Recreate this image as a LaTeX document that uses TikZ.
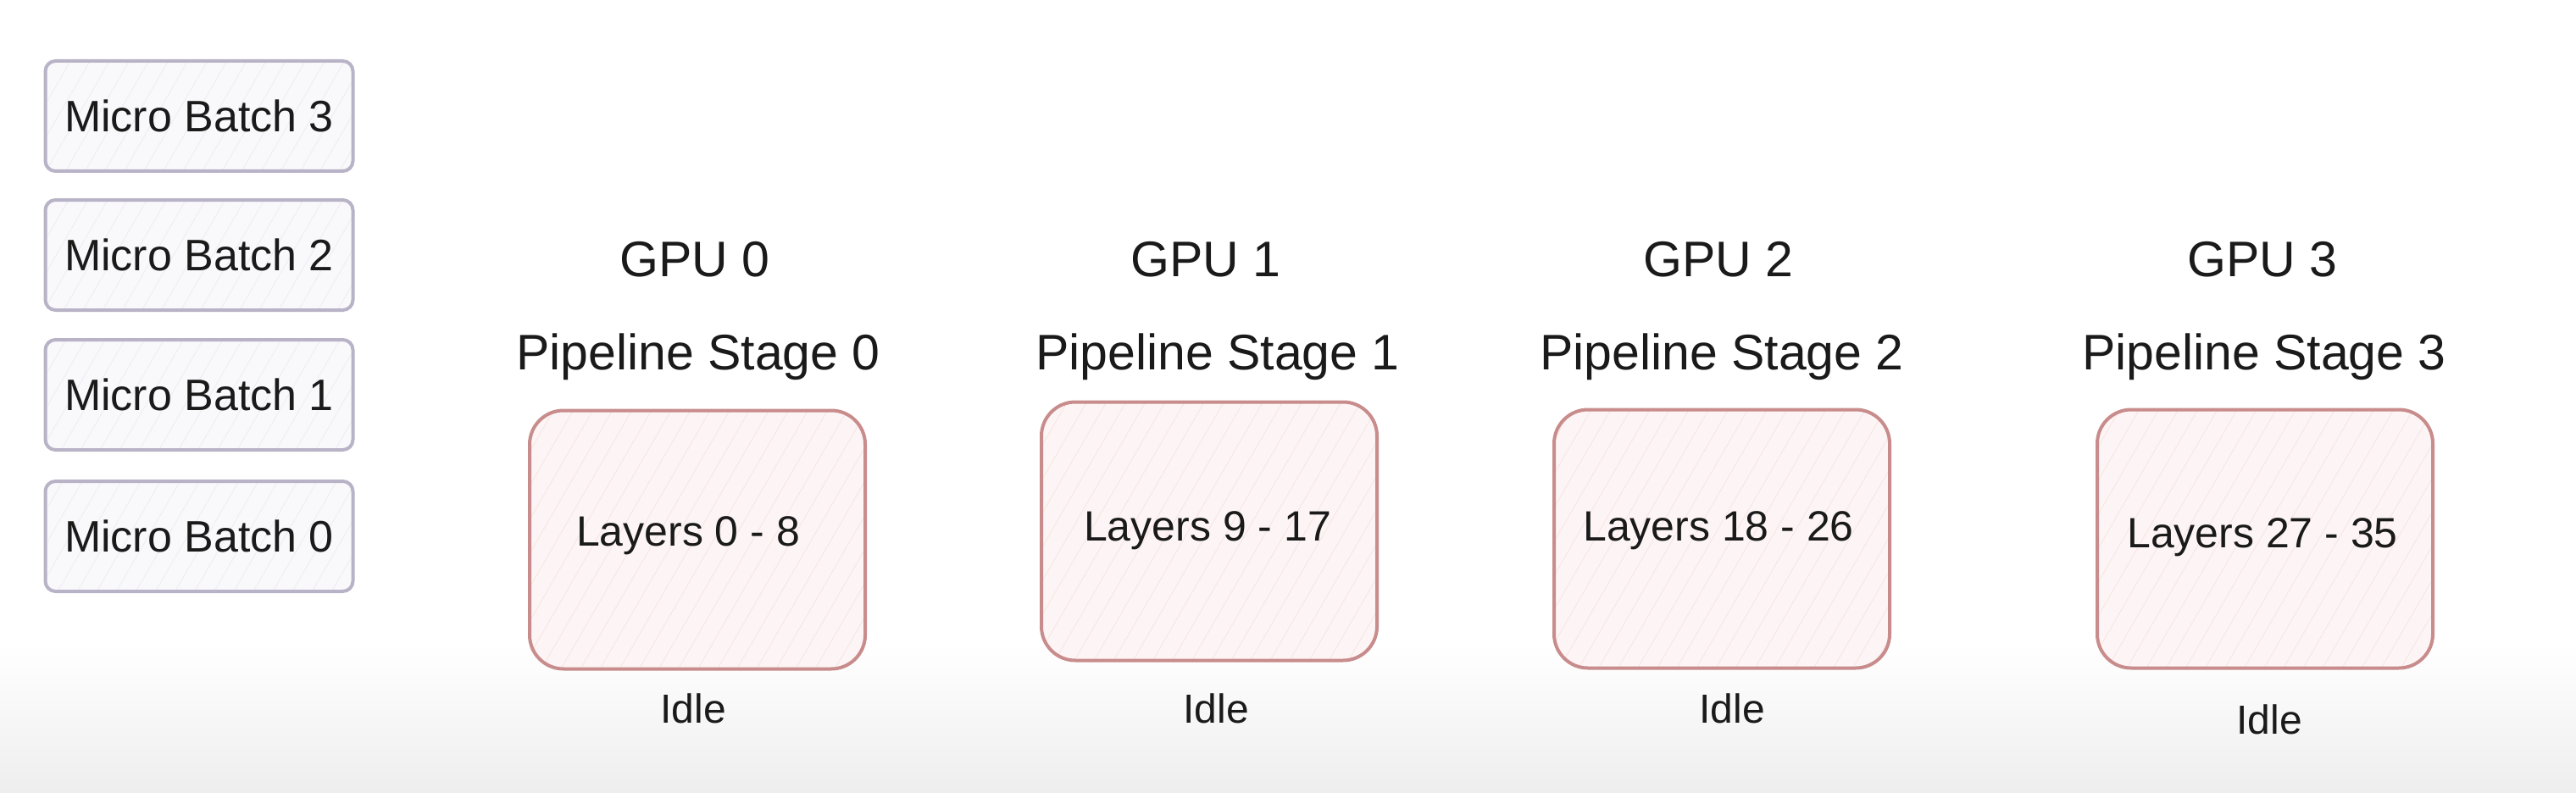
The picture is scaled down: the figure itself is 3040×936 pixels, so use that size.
\documentclass[tikz,border=0pt]{standalone}
\usepackage{fontspec}
\setmainfont{Liberation Sans}
\usetikzlibrary{patterns.meta}
\definecolor{mbdraw}{HTML}{B8B3C6}
\definecolor{mbfill}{HTML}{F9F8FB}
\definecolor{mbhatch}{HTML}{F0EEF3}
\definecolor{gpudraw}{HTML}{C98C8C}
\definecolor{gpufill}{HTML}{FDF5F5}
\definecolor{gpuhatch}{HTML}{F8E6E6}
\definecolor{txt}{HTML}{1A1A1A}
\definecolor{bottomgray}{HTML}{EEEEEE}
\begin{document}
\begin{tikzpicture}[x=1pt,y=-1pt,
  mbbox/.style={draw=mbdraw, line width=4pt, rounded corners=12pt,
    minimum width=363pt, minimum height=130pt, inner sep=0pt,
    preaction={fill=mbfill},
    pattern={Lines[angle=60,distance=20pt,line width=1pt]}, pattern color=mbhatch,
    font=\fontsize{52}{62}\selectfont, text=txt},
  gpubox/.style={draw=gpudraw, line width=4pt, rounded corners=40pt,
    minimum width=396pt, minimum height=305pt, inner sep=0pt,
    preaction={fill=gpufill},
    pattern={Lines[angle=60,distance=20pt,line width=1pt]}, pattern color=gpuhatch},
  title/.style={font=\fontsize{59}{70}\selectfont, text=txt, anchor=base, inner sep=0pt},
  layertext/.style={font=\fontsize{50}{60}\selectfont, text=txt, anchor=base, inner sep=0pt},
  idletext/.style={font=\fontsize{48}{58}\selectfont, text=txt, anchor=base, inner sep=0pt}
]
\useasboundingbox (0,0) rectangle (3040,936);
\fill[white] (0,0) rectangle (3040,936);
\shade[top color=white, bottom color=bottomgray] (0,760) rectangle (3040,936);

% micro batches
\node[mbbox] (mb3) at (235,137) {Micro Batch 3};
\node[mbbox] (mb2) at (235,301) {Micro Batch 2};
\node[mbbox] (mb1) at (235,466) {Micro Batch 1};
\node[mbbox] (mb0) at (235,633) {Micro Batch 0};

% GPU boxes
\node[gpubox] (g0) at (823,637) {};
\node[gpubox] (g1) at (1427,627) {};
\node[gpubox] (g2) at (2032,636) {};
\node[gpubox] (g3) at (2673,636) {};

% layer texts
\node[layertext] (l0) at (812,644) {Layers 0 - 8};
\node[layertext] (l1) at (1425,638) {Layers 9 - 17};
\node[layertext] (l2) at (2028,638) {Layers 18 - 26};
\node[layertext] (l3) at (2670,646) {Layers 27 - 35};

% GPU titles
\node[title] (t0) at (820,326) {GPU 0};
\node[title] (t1) at (1423,326) {GPU 1};
\node[title] (t2) at (2028,326) {GPU 2};
\node[title] (t3) at (2670,326) {GPU 3};

% stage titles
\node[title] (s0) at (824,436) {Pipeline Stage 0};
\node[title] (s1) at (1437,436) {Pipeline Stage 1};
\node[title] (s2) at (2032,436) {Pipeline Stage 2};
\node[title] (s3) at (2672,436) {Pipeline Stage 3};

% idle labels
\node[idletext] (i0) at (818,853) {Idle};
\node[idletext] (i1) at (1435,853) {Idle};
\node[idletext] (i2) at (2044,853) {Idle};
\node[idletext] (i3) at (2678,866) {Idle};
\end{tikzpicture}
\end{document}
